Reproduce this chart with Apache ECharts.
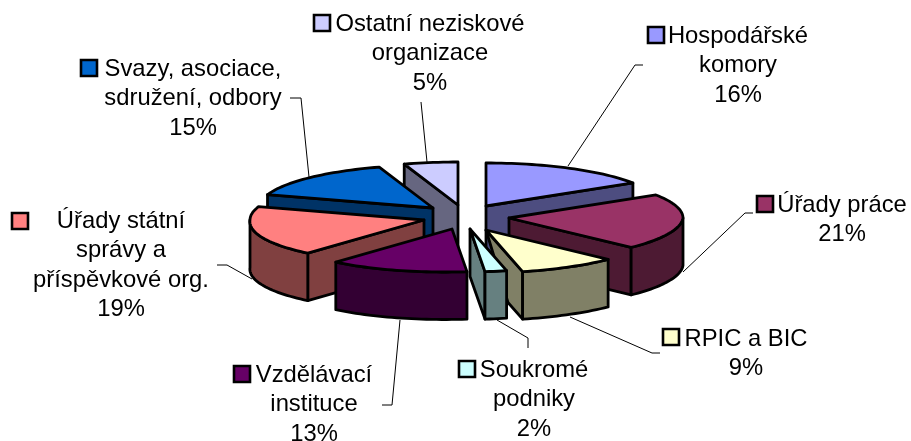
<!DOCTYPE html>
<html><head><meta charset="utf-8">
<style>html,body{margin:0;padding:0;background:#fff}#c{width:911px;height:441px}</style>
<script src="https://cdn.jsdelivr.net/npm/echarts@6/dist/echarts.min.js"></script>
</head><body><div id="c"></div>
<script>
// ---- data ----
const categories = ['Hospodářské komory','Úřady práce','RPIC a BIC','Soukromé podniky','Vzdělávací instituce','Úřady státní správy a příspěvkové org.','Svazy, asociace, sdružení, odbory','Ostatní neziskové organizace'];
const shares = [16,21,9,2,13,19,15,5];
// ---- look ----
const topColors  = ['#9999FF','#993366','#FFFFCC','#CCFFFF','#660066','#FF8080','#0066CC','#CCCCFF'];
const wallColors = ['#4D4D80','#4D1A33','#808066','#668080','#330033','#804040','#003366','#666680'];
// ---- layout ----
const RX=174, RY=43, DEPTH=47.5, SKEW=0.16, FONT=23.8;
const apex = [[486,206],[509,218],[486,230],[470,229],[452,229],[424,220],[433,208],[458,205]];
const drawOrder = [7,6,0,5,1,4,2,3];
// fraction of the end-face bottom edge kept for each slice (Excel clips the RPIC face)
const faceCut = [0,0,0.6,0,0,0,0,0];
const labelLines = [['Hospodářské','komory'],['Úřady práce'],['RPIC a BIC'],['Soukromé','podniky'],['Vzdělávací','instituce'],['Úřady státní','správy a','příspěvkové org.'],['Svazy, asociace,','sdružení, odbory'],['Ostatní neziskové','organizace']];
const labelCenter = [[738,36],[842,205],[746,339],[534,370],[314,375],[121,221],[193,69],[430,24]];
const lineStep = 29.6;
const swatch = [[648,27],[757,196],[663,329],[459,361],[234,366],[12,213],[81,60],[314,15]];
const leaders = [
 [[643,65],[635,65],[568,166]],
 [[753,213],[745,213],[683,272]],
 [[660,353],[652,353],[570,317]],
 [[528,348],[528,338],[497,320]],
 [[382,405],[392,405],[400,320]],
 [[217,265],[227,265],[252,279]],
 [[290,98],[301,98],[309,177]],
 [[421,102],[427,162]]
];
const total = shares.reduce((a,b)=>a+b,0);
const startFrac = shares.map((_,i)=>shares.slice(0,i).reduce((a,b)=>a+b,0)/total);
const rad = f => f*2*Math.PI;

function pt(i,a,drop){
  const x=RX*Math.sin(a), y=-RY*Math.cos(a);
  return [apex[i][0]+x-(y>0?SKEW*y:0), apex[i][1]+y+(drop||0)];
}
function arc(i,a,b,drop){
  const n=Math.max(2,Math.ceil((b-a)/0.03)), out=[];
  for(let k=0;k<=n;k++) out.push(pt(i,a+(b-a)*k/n,drop));
  return out;
}
const blk={stroke:'#000',lineWidth:2.8,lineJoin:'round'};
function poly(points,fill){return {type:'polygon',shape:{points},style:Object.assign({fill},blk),silent:true};}

function renderSlice(params,api){
  const i=drawOrder[params.dataIndex];
  const a=rad(startFrac[i]), b=a+rad(api.value(1)/total);
  const A=apex[i], ch=[];
  const down=p=>[p[0],p[1]+DEPTH];
  if(Math.sin(a)<-1e-6){
    const p=pt(i,a); ch.push(poly([A,p,down(p),down(A)],wallColors[i]));
  }
  if(Math.sin(b)>1e-6){
    const p=pt(i,b), q=down(p), r=down(A), c=faceCut[i];
    const m=[r[0]+(q[0]-r[0])*c, r[1]+(q[1]-r[1])*c];
    ch.push(poly([A,p,q,m],wallColors[i]));
  }
  const lo=Math.max(a,Math.PI/2), hi=Math.min(b,Math.PI*1.5);
  if(hi>lo){
    const t=arc(i,lo,hi,0), d=arc(i,lo,hi,DEPTH).reverse();
    ch.push(poly(t.concat(d),wallColors[i]));
  }
  ch.push(poly([A].concat(arc(i,a,b,0)),topColors[i]));
  return {type:'group',children:ch};
}
function renderLabel(params,api){
  const i=params.dataIndex, ch=[];
  ch.push({type:'polyline',shape:{points:leaders[i]},style:{stroke:'#000',lineWidth:1,fill:null},silent:true});
  ch.push({type:'rect',shape:{x:swatch[i][0],y:swatch[i][1],width:16,height:16},style:{fill:topColors[i],stroke:'#000',lineWidth:2.6},silent:true});
  const lines=labelLines[i].concat([api.value(1)+'%']);
  lines.forEach((t,k)=>ch.push({type:'text',silent:true,style:{text:t,x:labelCenter[i][0],y:labelCenter[i][1]+k*lineStep,align:'center',verticalAlign:'middle',fill:'#000',font:FONT+'px "Liberation Sans", Arial, sans-serif'}}));
  return {type:'group',children:ch};
}
const chart=echarts.init(document.getElementById('c'),null,{renderer:'canvas'});
chart.setOption({
  animation:false,
  backgroundColor:'#fff',
  series:[
    {type:'custom',coordinateSystem:'none',z:1,silent:true,renderItem:renderLabel,
     data:categories.map((n,i)=>({name:n,value:[i,shares[i]]}))},
    {type:'custom',coordinateSystem:'none',z:2,silent:true,renderItem:renderSlice,
     data:drawOrder.map(i=>({name:categories[i],value:[i,shares[i]]}))}
  ]
});
</script></body></html>
